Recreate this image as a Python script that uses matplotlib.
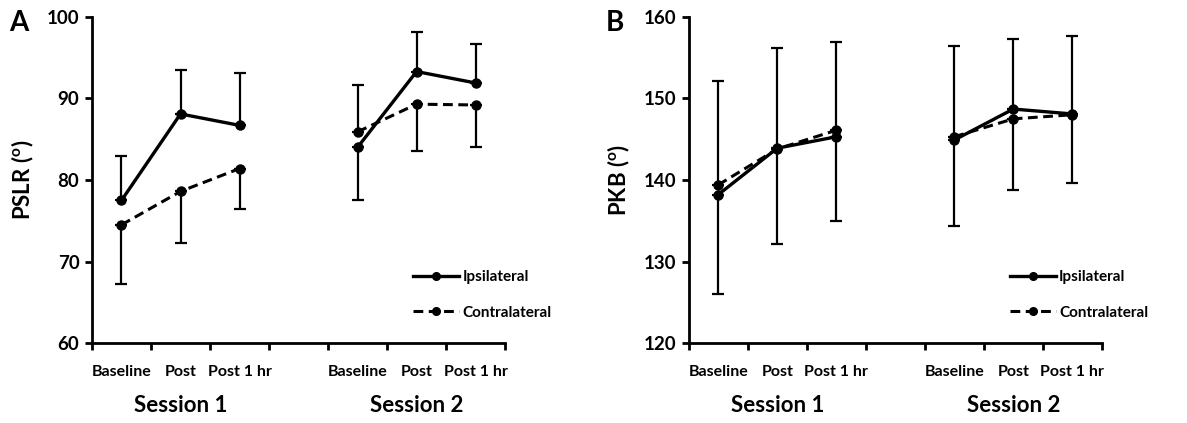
import matplotlib
matplotlib.use('Agg')
import matplotlib.pyplot as plt
from matplotlib.lines import Line2D
import numpy as np

plt.rcParams['font.family'] = ['Lato', 'DejaVu Sans']
plt.rcParams['font.weight'] = 'bold'
plt.rcParams['mathtext.fontset'] = 'custom'
plt.rcParams['mathtext.rm'] = 'Lato:bold'
plt.rcParams['mathtext.bf'] = 'Lato:bold'

# categories (4th slot is an empty gap between the sessions)
timepoints = ['Baseline', 'Post', 'Post 1 hr']
sessions = ['Session 1', 'Session 2']
x_pos = [0, 1, 2, 4, 5, 6]

# Panel A: PSLR
pslr_ipsi = [77.5, 88.1, 86.7, 84.0, 93.3, 91.9]
pslr_contra = [74.5, 78.6, 81.4, 85.9, 89.3, 89.2]
pslr_ipsi_up = [5.5, 5.4, 6.4, 0, 4.8, 4.8]
pslr_ipsi_down = [0, 0, 0, 6.5, 0, 0]
pslr_contra_up = [0, 0, 0, 5.8, 0, 0]
pslr_contra_down = [7.2, 6.3, 5.0, 0, 5.7, 5.1]

# Panel B: PKB
pkb_ipsi = [138.2, 143.9, 145.3, 144.9, 148.7, 148.1]
pkb_contra = [139.4, 143.8, 146.1, 145.3, 147.5, 148.0]
pkb_ipsi_up = [0, 12.3, 0, 0, 8.6, 9.5]
pkb_ipsi_down = [12.2, 0, 10.3, 10.5, 0, 0]
pkb_contra_up = [12.7, 0, 10.8, 11.1, 0, 0]
pkb_contra_down = [0, 11.6, 0, 0, 8.75, 8.4]

fig = plt.figure(figsize=(11.87, 4.23), dpi=100)
axA = fig.add_axes([0.0775, 0.189, 0.348, 0.771])
axB = fig.add_axes([0.5802, 0.189, 0.348, 0.771])

dash = (0, (3.2, 1.8))


def draw_panel(ax, ipsi, contra, iu, idn, cu, cd, ylim, yticks, ylabel, letter):
    for seg in (slice(0, 3), slice(3, 6)):
        xs = x_pos[seg]
        ax.errorbar(xs, ipsi[seg], yerr=[idn[seg], iu[seg]], color='black', lw=2.4,
                    marker='o', ms=6.5, elinewidth=1.6, capsize=4, capthick=1.6)
        ax.errorbar(xs, contra[seg], yerr=[cd[seg], cu[seg]], color='black', lw=2.2,
                    ls=dash, marker='o', ms=6.5, elinewidth=1.6, capsize=4,
                    capthick=1.6)

    ax.set_xlim(-0.5, 6.5)
    ax.set_ylim(*ylim)
    ax.set_yticks(yticks)
    ax.set_xticks(np.arange(-0.5, 7.0, 1.0))
    ax.set_xticklabels([])
    ax.set_xticks(x_pos, minor=True)
    ax.set_xticklabels(timepoints * 2, minor=True)
    ax.tick_params(axis='x', which='minor', length=0, pad=16, labelsize=11.5)
    ax.tick_params(axis='x', which='major', length=5, width=2, direction='out')
    ax.tick_params(axis='y', length=5, width=2, direction='out', labelsize=13.5, pad=4)
    for s in ('top', 'right'):
        ax.spines[s].set_visible(False)
    for s in ('left', 'bottom'):
        ax.spines[s].set_linewidth(2)
    ax.set_ylabel(ylabel, fontsize=16, fontweight='bold', labelpad=8)

    for i, name in enumerate(sessions):
        ax.text(x_pos[1 + 3 * i], -0.19, name, transform=ax.get_xaxis_transform(),
                ha='center', va='center', fontsize=16, fontweight='bold')

    ax.text(-0.2, 0.98, letter, transform=ax.transAxes, fontsize=20,
            fontweight='bold', ha='left', va='center')

    handles = [Line2D([], [], color='black', lw=2.4, marker='o', ms=5.5),
               Line2D([], [], color='black', lw=2.2, ls=dash, marker='o', ms=5.5)]
    ax.legend(handles, ['Ipsilateral', 'Contralateral'], loc='lower left',
              bbox_to_anchor=(0.745, 0.03), frameon=False, numpoints=1,
              handlelength=3.0, handletextpad=0.2, labelspacing=1.4,
              fontsize=11)


draw_panel(axA, pslr_ipsi, pslr_contra, pslr_ipsi_up, pslr_ipsi_down,
           pslr_contra_up, pslr_contra_down, (60, 100), [60, 70, 80, 90, 100],
           r'PSLR ($^{\mathbf{o}}$)', 'A')
draw_panel(axB, pkb_ipsi, pkb_contra, pkb_ipsi_up, pkb_ipsi_down,
           pkb_contra_up, pkb_contra_down, (120, 160), [120, 130, 140, 150, 160],
           r'PKB ($^{\mathbf{o}}$)', 'B')

fig.savefig('out.png', dpi=100)
